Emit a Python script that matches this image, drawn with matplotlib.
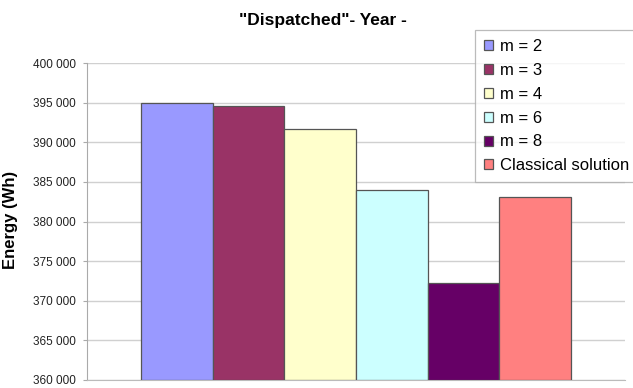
import numpy as np
import matplotlib.pyplot as plt
from matplotlib.ticker import FuncFormatter

# data
series = ['m = 2', 'm = 3', 'm = 4', 'm = 6', 'm = 8', 'Classical solution']
energy = [395000, 394600, 391700, 384000, 372300, 383100]
colors = ['#9999FF', '#993366', '#FFFFCC', '#CCFFFF', '#660066', '#FF8080']
yticks = np.arange(360000, 400001, 5000)

plt.rcParams['font.family'] = ['Liberation Sans', 'DejaVu Sans']

fig = plt.figure(figsize=(6.33, 3.88), dpi=100)
ax = fig.add_axes([87 / 633, 1 - 380 / 388, 538 / 633, 317 / 388])

# one category, six bars side by side
offsets = np.arange(len(series)) - (len(series) - 1) / 2
for off, val, col, lab in zip(offsets, energy, colors, series):
    ax.bar(off, val - yticks[0], bottom=yticks[0], width=1.0, color=col,
           edgecolor='#555555', linewidth=0.9, label=lab, zorder=3)

ax.set_xlim(-3.76, 3.76)
ax.set_ylim(yticks[0], yticks[-1])
ax.set_yticks(yticks)
ax.yaxis.set_major_formatter(FuncFormatter(lambda v, p: f"{int(v):,}".replace(',', ' ')))
ax.set_xticks([])
ax.tick_params(axis='y', labelsize=8.5, labelcolor='#222222', color='#aaaaaa',
               length=3, width=0.8, pad=5)

ax.grid(axis='y', color='#d0d0d0', linewidth=1.0, zorder=0)
for s in ['top', 'right']:
    ax.spines[s].set_visible(False)
ax.spines['left'].set_color('#aaaaaa')
ax.spines['bottom'].set_color('#bbbbbb')

ax.set_ylabel('Energy (Wh)', fontsize=12, fontweight='bold')
ax.yaxis.set_label_coords(-(87 - 18.5) / 538, (380 - 220) / 317)
fig.text(323 / 633, 1 - 21 / 388, '"Dispatched"- Year -', ha='center', va='center',
         fontsize=12.5, fontweight='bold')

leg = fig.legend(loc='upper left', bbox_to_anchor=(475 / 633, 1 - 30 / 388),
                 fontsize=12, handlelength=0.55, handleheight=0.55, handletextpad=0.4,
                 labelspacing=0.53, borderpad=0.55, borderaxespad=0, fancybox=False,
                 frameon=True, edgecolor='#aaaaaa')
leg.get_frame().set_linewidth(0.9)

fig.savefig('out.png', dpi=100)
